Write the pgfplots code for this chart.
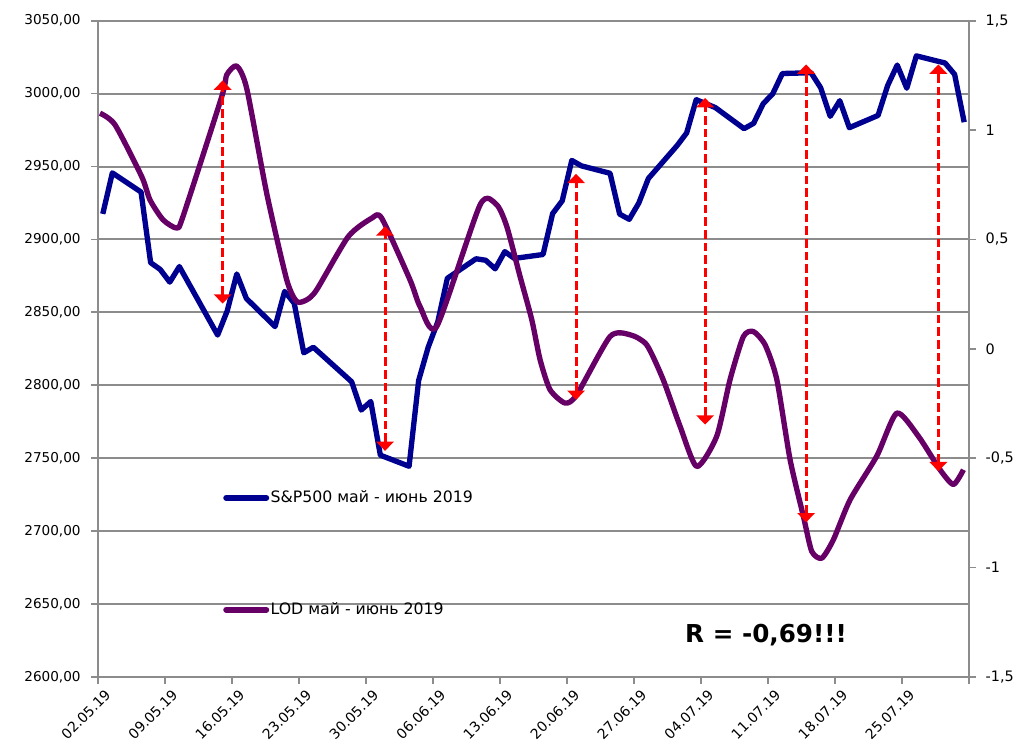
\documentclass[border=0pt]{standalone}
\usepackage{pgfplots}
\pgfplotsset{compat=1.18}
\usepackage{fontspec}
\setmainfont{DejaVu Sans}
\usetikzlibrary{arrows.meta}
\definecolor{spblue}{RGB}{0,0,144}
\definecolor{lodpurple}{RGB}{102,0,102}
\definecolor{gridgray}{RGB}{140,140,140}

\pgfplotstableread{
x y
0.5 2917.52
1.5 2945.64
4.5 2932.47
5.5 2884.05
6.5 2879.42
7.5 2870.72
8.5 2881.40
12.5 2834.41
13.5 2850.96
14.5 2876.32
15.5 2859.53
18.5 2840.23
19.5 2864.36
20.5 2856.27
21.5 2822.24
22.5 2826.06
26.5 2802.39
27.5 2783.02
28.5 2788.86
29.5 2752.06
32.5 2744.45
33.5 2803.27
34.5 2826.15
35.5 2843.49
36.5 2873.34
39.5 2886.73
40.5 2885.72
41.5 2879.84
42.5 2891.64
43.5 2886.98
46.5 2889.67
47.5 2917.75
48.5 2926.46
49.5 2954.18
50.5 2950.46
53.5 2945.35
54.5 2917.38
55.5 2913.78
56.5 2924.92
57.5 2941.76
60.5 2964.33
61.5 2973.01
62.5 2995.82
64.5 2990.41
67.5 2975.95
68.5 2979.63
69.5 2993.07
70.5 2999.91
71.5 3013.77
74.5 3014.30
75.5 3004.04
76.5 2984.42
77.5 2995.11
78.5 2976.61
81.5 2985.03
82.5 3005.47
83.5 3019.56
84.5 3003.67
85.5 3025.86
88.5 3020.97
89.5 3013.18
90.5 2980.38
}\sptable

\pgfplotstableread{
x y
0.21 1.077
1.78 1.024
4.57 0.787
5.43 0.681
6.79 0.590
8.22 0.552
8.88 0.605
12.93 1.153
13.45 1.252
14.49 1.293
15.54 1.190
17.63 0.710
19.72 0.315
20.76 0.216
21.81 0.224
22.85 0.270
26.15 0.513
28.60 0.597
29.64 0.597
32.60 0.315
33.65 0.193
35.39 0.102
39.92 0.658
41.66 0.658
42.71 0.559
44.10 0.330
45.32 0.133
46.19 -0.050
47.23 -0.187
48.80 -0.248
50.02 -0.210
53.50 0.056
55.60 0.064
57.33 0.018
59.04 -0.140
60.82 -0.355
62.56 -0.538
64.64 -0.400
66.04 -0.140
67.43 0.056
68.47 0.079
69.70 0.018
70.92 -0.140
72.31 -0.507
73.70 -0.766
74.57 -0.926
75.62 -0.957
76.83 -0.873
78.58 -0.690
81.37 -0.490
83.46 -0.294
85.72 -0.400
87.98 -0.553
89.37 -0.620
90.42 -0.553
}\lodtable

\begin{document}
\begin{tikzpicture}
\pgfplotsset{
  base/.style={scale only axis, width=653.25pt, height=492.2pt, xmin=0, xmax=91,
    tick label style={font=\fontsize{10.2}{12}\selectfont, text=black},
    axis line style={-, gridgray, line width=1.5pt},
    tick style={gridgray, line width=1.3pt},
    tick align=outside, major tick length=5pt,
  },
  arr/.style={red, line width=2.2pt, dash pattern=on 6.5pt off 3pt,
    {Triangle[width=13pt,length=7pt]}-{Triangle[width=13pt,length=7pt]}},
}
\begin{axis}[base,
  ymin=2600, ymax=3050,
  axis x line*=bottom, axis y line*=left,
  ytick={2600,2650,2700,2750,2800,2850,2900,2950,3000,3050},
  yticklabels={2600{,}00,2650{,}00,2700{,}00,2750{,}00,2800{,}00,2850{,}00,2900{,}00,2950{,}00,3000{,}00,3050{,}00},
  yticklabel style={xshift=-4.5pt},
  xtick={0,7,14,21,28,35,42,49,56,63,70,77,84,91},
  xticklabels={02.05.19,09.05.19,16.05.19,23.05.19,30.05.19,06.06.19,13.06.19,20.06.19,27.06.19,04.07.19,11.07.19,18.07.19,25.07.19,{}},
  xticklabel style={rotate=45, anchor=north east, xshift=4pt, yshift=-2.5pt, font=\fontsize{10.5}{12}\selectfont},
  ymajorgrids, grid style={gridgray, line width=1.5pt},
]
\addplot[spblue, line width=4pt, line join=round] table[x=x,y=y] {\sptable};
\end{axis}
\begin{axis}[base,
  ymin=-1.5, ymax=1.5,
  axis x line=none, axis y line*=right,
  ytick={-1.5,-1,-0.5,0,0.5,1,1.5},
  yticklabels={-1{,}5,-1,-0{,}5,0,0{,}5,1,1{,}5},
  yticklabel style={xshift=4pt, font=\fontsize{10.8}{12}\selectfont},
  legend style={at={(0.1435,0.286)}, anchor=north west, draw=none, fill=none,
    font=\fontsize{11.8}{14}\selectfont, row sep=71.5pt, inner sep=0pt,
    nodes={inner sep=1pt}},
  legend cell align=left,
  legend image code/.code={\draw[#1, line width=4.5pt, line cap=round] (0pt,0pt) -- (30pt,0pt);},
]
\addlegendimage{spblue}
\addlegendentry{S\&P500 май - июнь 2019}
\addplot[lodpurple, line width=4pt, smooth, tension=0.4, line join=round] table[x=x,y=y] {\lodtable};
\addlegendentry{LOD май - июнь 2019}
\end{axis}
\begin{axis}[base, ymin=2600, ymax=3050, hide axis]
\addplot[arr] coordinates {(13.02,2856) (13.02,3009)};
\addplot[arr] coordinates {(29.99,2755) (29.99,2909)};
\addplot[arr] coordinates {(49.95,2790) (49.95,2945)};
\addplot[arr] coordinates {(63.43,2773) (63.43,2997)};
\addplot[arr] coordinates {(73.98,2706) (73.98,3020)};
\addplot[arr] coordinates {(87.80,2741) (87.80,3020)};
\node[font=\bfseries\fontsize{18.5}{22}\selectfont] at (rel axis cs:0.767,0.064) {R = -0,69!!!};
\end{axis}
\pgfresetboundingbox
\path[use as bounding box] (-73.5pt,-50.25pt) rectangle (693pt,507.7pt);
\end{tikzpicture}
\end{document}
